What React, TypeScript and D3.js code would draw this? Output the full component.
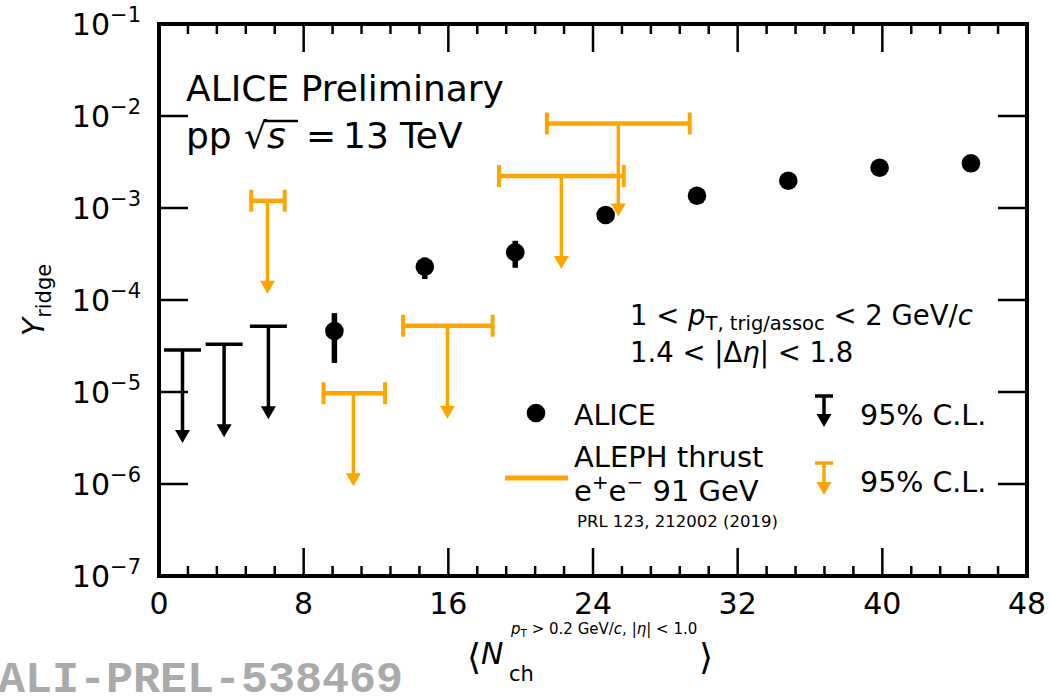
import React from 'react';
import * as d3 from 'd3';

// ALICE measured points (x, y, lower / upper error bounds)
const aliceX = [9.7, 14.7, 19.7, 24.7, 29.75, 34.8, 39.85, 44.9];
const aliceY = [4.6e-5, 2.3e-4, 3.3e-4, 8.4e-4, 1.36e-3, 1.98e-3, 2.74e-3, 3.06e-3];
const aliceYLow = [2.07e-5, 1.69e-4, 2.24e-4, 7.9e-4, 1.3e-3, 1.9e-3, 2.65e-3, 2.97e-3];
const aliceYHigh = [7.2e-5, 2.9e-4, 4.4e-4, 8.9e-4, 1.42e-3, 2.06e-3, 2.83e-3, 3.15e-3];

// ALICE 95% C.L. upper limits
const aliceLimX = [1.3, 3.6, 6.05];
const aliceLimY = [2.86e-5, 3.3e-5, 5.2e-5];

// ALEPH 95% C.L. upper limits with x ranges
const alephX = [6.0, 10.75, 15.95, 22.25, 25.4];
const alephXLow = [5.1, 9.1, 13.5, 18.8, 21.45];
const alephXHigh = [6.95, 12.5, 18.45, 25.7, 29.35];
const alephLimY = [1.2e-3, 9.7e-6, 5.26e-5, 2.23e-3, 8.3e-3];

const xTicks = [0, 8, 16, 24, 32, 40, 48];
const xMinorStep = 1.6;
const yTickExps = [-7, -6, -5, -4, -3, -2, -1];

const ORANGE = '#ffa500';
const FONT = "'DejaVu Sans', sans-serif";

export default function App() {
  const left = 159, right = 1027, top = 24, bottom = 576;
  const x = d3.scaleLinear().domain([0, 48]).range([left, right]);
  const y = d3.scaleLog().domain([1e-7, 1e-1]).range([bottom, top]);

  const minorX = d3.range(0, 48.001, xMinorStep).filter(v => !xTicks.some(t => Math.abs(t - v) < 1e-6));

  const arrow = (cx: number, y0: number, tip: number, color: string, lw: number, key: string) => {
    const hl = 13, hw = 7.5;
    return (
      <g key={key}>
        <line x1={cx} x2={cx} y1={y0} y2={tip - hl + 1} stroke={color} strokeWidth={lw} />
        <path d={`M${cx - hw},${tip - hl}L${cx + hw},${tip - hl}L${cx},${tip}Z`} fill={color} />
      </g>
    );
  };

  return (
    <svg width={1051} height={699} style={{ position: 'absolute', left: 0, top: 0, background: '#fff' }}
      fontFamily={FONT}>
      <rect x={0} y={0} width={1051} height={699} fill="#fff" />

      {/* ticks */}
      {xTicks.map(t => (
        <g key={'xt' + t}>
          <line x1={x(t)} x2={x(t)} y1={bottom} y2={bottom - 28} stroke="#000" strokeWidth={2.5} />
          <line x1={x(t)} x2={x(t)} y1={top} y2={top + 28} stroke="#000" strokeWidth={2.5} />
          <text x={x(t)} y={614} fontSize={30} textAnchor="middle">{t}</text>
        </g>
      ))}
      {minorX.map(t => (
        <g key={'xm' + t}>
          <line x1={x(t)} x2={x(t)} y1={bottom} y2={bottom - 10} stroke="#000" strokeWidth={2.5} />
          <line x1={x(t)} x2={x(t)} y1={top} y2={top + 10} stroke="#000" strokeWidth={2.5} />
        </g>
      ))}
      {yTickExps.map(e => {
        const yy = y(Math.pow(10, e));
        return (
          <g key={'yt' + e}>
            <line x1={left} x2={left + 29} y1={yy} y2={yy} stroke="#000" strokeWidth={2.5} />
            <line x1={right} x2={right - 29} y1={yy} y2={yy} stroke="#000" strokeWidth={2.5} />
            <text x={141} y={yy + 11} fontSize={30} textAnchor="end">
              <tspan>10</tspan>
              <tspan dy={-13} fontSize={21}>{'\u2212' + Math.abs(e)}</tspan>
            </text>
          </g>
        );
      })}

      {/* ALICE points */}
      {aliceX.map((v, i) => (
        <g key={'a' + i}>
          <line x1={x(v)} x2={x(v)} y1={y(aliceYLow[i])} y2={y(aliceYHigh[i])} stroke="#000" strokeWidth={5.5} />
          <circle cx={x(v)} cy={y(aliceY[i])} r={9.3} fill="#000" />
        </g>
      ))}

      {/* ALICE upper limits */}
      {aliceLimX.map((v, i) => (
        <g key={'al' + i}>
          <line x1={x(v) - 18.5} x2={x(v) + 18.5} y1={y(aliceLimY[i])} y2={y(aliceLimY[i])} stroke="#000" strokeWidth={3.5} />
          {arrow(x(v), y(aliceLimY[i]), y(aliceLimY[i] / 10) + 1, '#000', 3.5, 'ar' + i)}
        </g>
      ))}

      {/* ALEPH upper limits */}
      {alephX.map((v, i) => {
        const yy = y(alephLimY[i]);
        return (
          <g key={'ep' + i}>
            <line x1={x(alephXLow[i])} x2={x(alephXHigh[i])} y1={yy} y2={yy} stroke={ORANGE} strokeWidth={4.5} />
            <line x1={x(alephXLow[i])} x2={x(alephXLow[i])} y1={yy - 11} y2={yy + 11} stroke={ORANGE} strokeWidth={4} />
            <line x1={x(alephXHigh[i])} x2={x(alephXHigh[i])} y1={yy - 11} y2={yy + 11} stroke={ORANGE} strokeWidth={4} />
            {arrow(x(v), yy, y(alephLimY[i] / 10) + 1, ORANGE, 3.5, 'er' + i)}
          </g>
        );
      })}

      {/* frame */}
      <rect x={left} y={top} width={right - left} height={bottom - top} fill="none" stroke="#000" strokeWidth={4} />

      {/* header text */}
      <text x={186} y={101} fontSize={36}>ALICE Preliminary</text>
      <text x={186} y={148} fontSize={36}>pp</text>
      <text x={244} y={148} fontSize={36}>{'\u221A'}</text>
      <line x1={264} x2={298} y1={121} y2={121} stroke="#000" strokeWidth={2.5} />
      <text x={267} y={148} fontSize={36} fontStyle="italic">s</text>
      <text x={306} y={148} fontSize={36}>=</text>
      <text x={343} y={148} fontSize={36}>13</text>
      <text x={400} y={148} fontSize={36}>TeV</text>

      {/* kinematic text */}
      <text x={630} y={325} fontSize={27.5}>
        <tspan>{'1 < '}</tspan>
        <tspan fontStyle="italic">p</tspan>
        <tspan fontSize={19.5} dy={5}>{'T, trig/assoc'}</tspan>
        <tspan dy={-5}>{' < 2 GeV/'}</tspan>
        <tspan fontStyle="italic">c</tspan>
      </text>
      <text x={630} y={362} fontSize={27.5}>
        <tspan>{'1.4 < |\u0394'}</tspan>
        <tspan fontStyle="italic">{'\u03B7'}</tspan>
        <tspan>{'| < 1.8'}</tspan>
      </text>

      {/* legend */}
      <circle cx={536} cy={413} r={9.3} fill="#000" />
      <text x={574} y={425} fontSize={28.5}>ALICE</text>
      <line x1={505} x2={568} y1={478} y2={478} stroke={ORANGE} strokeWidth={5} />
      <text x={574} y={467} fontSize={29}>ALEPH thrust</text>
      <text x={574} y={501} fontSize={29}>
        <tspan>e</tspan>
        <tspan fontSize={20} dy={-12}>+</tspan>
        <tspan dy={12}>e</tspan>
        <tspan fontSize={20} dy={-12}>{'\u2212'}</tspan>
        <tspan dy={12}>{' 91 GeV'}</tspan>
      </text>
      <text x={577} y={527} fontSize={16.5}>PRL 123, 212002 (2019)</text>

      <line x1={815} x2={833} y1={396} y2={396} stroke="#000" strokeWidth={3.5} />
      {arrow(824, 396, 427, '#000', 3.5, 'lg1')}
      <text x={860} y={425} fontSize={28.5}>95% C.L.</text>
      <line x1={815} x2={833} y1={463} y2={463} stroke={ORANGE} strokeWidth={3.5} />
      {arrow(824, 463, 495, ORANGE, 3.5, 'lg2')}
      <text x={860} y={492} fontSize={28.5}>95% C.L.</text>

      {/* axis labels */}
      <g transform="translate(44,300) rotate(-90)">
        <text textAnchor="middle" fontSize={30}>
          <tspan fontStyle="italic">Y</tspan>
          <tspan fontSize={21} dy={7}>ridge</tspan>
        </text>
      </g>

      <text x={467} y={669} fontSize={36}>{'\u27E8'}</text>
      <text x={481} y={664} fontSize={30} fontStyle="italic">N</text>
      <text x={509} y={681} fontSize={21}>ch</text>
      <text x={511} y={634} fontSize={15}>
        <tspan fontStyle="italic">p</tspan>
        <tspan fontSize={10.5} dy={3}>T</tspan>
        <tspan dy={-3}>{' > 0.2 GeV/'}</tspan>
        <tspan fontStyle="italic">c</tspan>
        <tspan>{', |'}</tspan>
        <tspan fontStyle="italic">{'\u03B7'}</tspan>
        <tspan>{'| < 1.0'}</tspan>
      </text>
      <text x={699} y={669} fontSize={36}>{'\u27E9'}</text>

      {/* watermark */}
      <text x={-2} y={692} fontSize={45} fontWeight="bold" fill="#aaaaaa"
        fontFamily="'Liberation Mono', monospace">ALI-PREL-538469</text>
    </svg>
  );
}
